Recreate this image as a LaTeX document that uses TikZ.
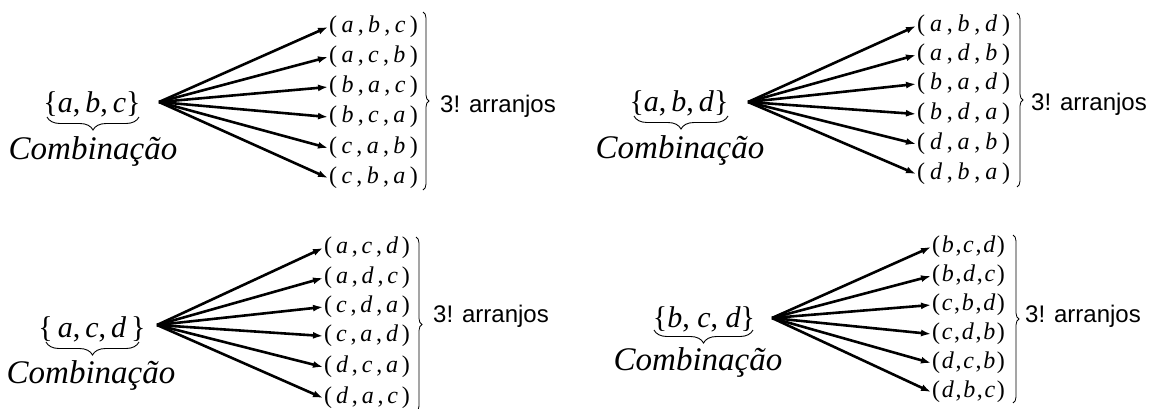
\documentclass[tikz,border=0pt]{standalone}
\usepackage{fontspec}
\setmainfont{Liberation Serif}
\newfontfamily\labelfont{Liberation Sans}
\usetikzlibrary{arrows.meta,decorations.pathreplacing}

% ordered triple with adjustable spacing around the commas
\newcommand\tpl[4]{(\hspace{#4}\textit{#1}\hspace{#4},\hspace{#4}\textit{#2}\hspace{#4},\hspace{#4}\textit{#3}\hspace{#4})}

\begin{document}
\begin{tikzpicture}[x=1pt,y=-1pt,
  settxt/.style={font=\fontsize{30}{36}\selectfont, anchor=base, inner sep=0},
  combtxt/.style={font=\fontsize{33}{38}\selectfont\itshape, anchor=base, inner sep=0},
  tuple/.style={font=\fontsize{24}{28}\selectfont, anchor=west, inner sep=1pt,
                text height=16.3pt, text depth=4.5pt},
  arr/.style={line width=2.6pt, -{Latex[length=10pt,width=7pt]}},
  rbrace/.style={decorate, decoration={brace, amplitude=6pt}, line width=0.8pt},
  ubrace/.style={decorate, decoration={brace, amplitude=13pt}, line width=0.9pt},
  cnt/.style={font=\labelfont\fontsize{24}{28}\selectfont, anchor=base west, inner sep=0}]

\path[use as bounding box, fill=white] (0,0) rectangle (1157,408);

% ---------- {a,b,c} ----------
\node[settxt] (s1) at (92,112) {\{\textit{a},\,\textit{b},\,\textit{c}\}};
\draw[ubrace] (139,117) -- (47,117);
\node[combtxt] (c1) at (93,159) {Combinação};
\coordinate (o1) at (159,102);
\node[tuple] (p1r1) at (328,27)  {\tpl{a}{b}{c}{0.18em}};
\node[tuple] (p1r2) at (328,57)  {\tpl{a}{c}{b}{0.18em}};
\node[tuple] (p1r3) at (328,87)  {\tpl{b}{a}{c}{0.18em}};
\node[tuple] (p1r4) at (328,117) {\tpl{b}{c}{a}{0.18em}};
\node[tuple] (p1r5) at (328,148) {\tpl{c}{a}{b}{0.18em}};
\node[tuple] (p1r6) at (328,178) {\tpl{c}{b}{a}{0.18em}};
\foreach \i in {1,...,6} \draw[arr] (o1) -- (p1r\i.west);
\coordinate (b1t) at (423,12);
\coordinate (b1b) at (423,190);
\draw[rbrace] (b1t) -- (b1b);
\node[cnt] (n1) at (440,112) {3! arranjos};

% ---------- {a,b,d} ----------
\node[settxt] (s2) at (679,111) {\{\textit{a},\,\textit{b},\,\textit{d}\}};
\draw[ubrace] (728,116) -- (634,116);
\node[combtxt] (c2) at (680,158) {Combinação};
\coordinate (o2) at (748,102);
\node[tuple] (p2r1) at (916,26)  {\tpl{a}{b}{d}{0.2em}};
\node[tuple] (p2r2) at (916,55)  {\tpl{a}{d}{b}{0.2em}};
\node[tuple] (p2r3) at (916,84)  {\tpl{b}{a}{d}{0.2em}};
\node[tuple] (p2r4) at (916,114) {\tpl{b}{d}{a}{0.2em}};
\node[tuple] (p2r5) at (916,144) {\tpl{d}{a}{b}{0.2em}};
\node[tuple] (p2r6) at (916,174) {\tpl{d}{b}{a}{0.2em}};
\foreach \i in {1,...,6} \draw[arr] (o2) -- (p2r\i.west);
\coordinate (b2t) at (1017,13);
\coordinate (b2b) at (1017,187);
\draw[rbrace] (b2t) -- (b2b);
\node[cnt] (n2) at (1031,110) {3! arranjos};

% ---------- {a,c,d} ----------
\node[settxt] (s3) at (92,337) {\{\,\textit{a},\,\textit{c},\,\textit{d}\,\}};
\draw[ubrace] (139,342) -- (46,342);
\node[combtxt] (c3) at (91,383) {Combinação};
\coordinate (o3) at (157,325);
\node[tuple] (p3r1) at (323,248) {\tpl{a}{c}{d}{0.16em}};
\node[tuple] (p3r2) at (323,278) {\tpl{a}{d}{c}{0.16em}};
\node[tuple] (p3r3) at (323,307) {\tpl{c}{d}{a}{0.16em}};
\node[tuple] (p3r4) at (323,336) {\tpl{c}{a}{d}{0.16em}};
\node[tuple] (p3r5) at (323,367) {\tpl{d}{c}{a}{0.16em}};
\node[tuple] (p3r6) at (323,398) {\tpl{d}{a}{c}{0.16em}};
\foreach \i in {1,...,6} \draw[arr] (o3) -- (p3r\i.west);
\coordinate (b3t) at (416,237);
\coordinate (b3b) at (416,412);
\draw[rbrace] (b3t) -- (b3b);
\node[cnt] (n3) at (433,322) {3! arranjos};

% ---------- {b,c,d} ----------
\node[settxt] (s4) at (704,327) {\{\textit{b}, \textit{c}, \textit{d}\}};
\draw[ubrace] (753,330) -- (654,330);
\node[combtxt] (c4) at (698,370) {Combinação};
\coordinate (o4) at (772,318);
\node[tuple] (p4r1) at (931,247) {\tpl{b}{c}{d}{0.07em}};
\node[tuple] (p4r2) at (931,276) {\tpl{b}{d}{c}{0.07em}};
\node[tuple] (p4r3) at (931,305) {\tpl{c}{b}{d}{0.07em}};
\node[tuple] (p4r4) at (931,334) {\tpl{c}{d}{b}{0.07em}};
\node[tuple] (p4r5) at (931,363) {\tpl{d}{c}{b}{0.07em}};
\node[tuple] (p4r6) at (931,392) {\tpl{d}{b}{c}{0.07em}};
\foreach \i in {1,...,6} \draw[arr] (o4) -- (p4r\i.west);
\coordinate (b4t) at (1013,235);
\coordinate (b4b) at (1013,403);
\draw[rbrace] (b4t) -- (b4b);
\node[cnt] (n4) at (1025,322) {3! arranjos};

\end{tikzpicture}
\end{document}
